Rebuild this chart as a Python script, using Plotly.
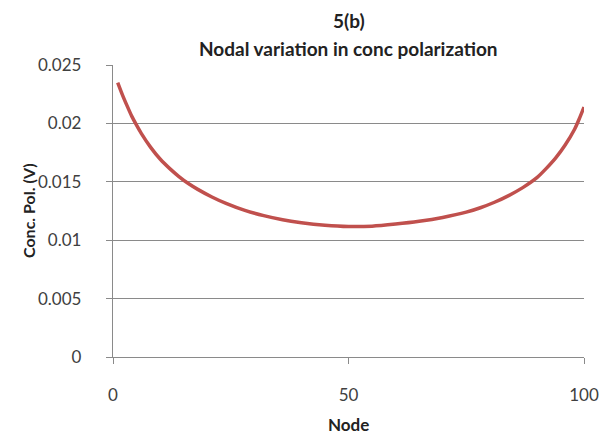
import plotly.graph_objects as go

# Concentration polarization along the cell, sampled at selected nodes
nodes = [1, 2, 3, 4, 5, 6, 8, 10, 12, 14, 16, 18, 21, 24, 28, 32, 36, 40,
         45, 50, 55, 60, 65, 70, 75, 78, 81, 84, 87, 90, 92, 94, 96, 98,
         99, 100]
conc_pol = [0.02350, 0.02245, 0.02150, 0.02060, 0.01985, 0.01915, 0.01795,
            0.01695, 0.01615, 0.01545, 0.01485, 0.01435, 0.01370, 0.01315,
            0.01255, 0.01210, 0.01175, 0.01150, 0.01128, 0.01117, 0.01120,
            0.01138, 0.01162, 0.01195, 0.01240, 0.01278, 0.01325, 0.01382,
            0.01450, 0.01535, 0.01615, 0.01705, 0.01815, 0.01950, 0.02040,
            0.02140]

x_ticks = [0, 50, 100]
y_ticks = [0, 0.005, 0.01, 0.015, 0.02, 0.025]
y_tick_text = ["0", "0.005", "0.01", "0.015", "0.02", "0.025"]

FONT = "Lato, 'Open Sans', sans-serif"
AXIS_GREY = "#8a8a8a"
TEXT_DARK = "#222222"

fig = go.Figure()
fig.add_trace(go.Scatter(
    x=nodes, y=conc_pol, mode="lines",
    line=dict(color="#C0504D", width=3.5, shape="spline", smoothing=0.6),
    showlegend=False,
))

fig.update_layout(
    width=611, height=435,
    margin=dict(l=113, r=24, t=65, b=78),
    paper_bgcolor="white", plot_bgcolor="white",
    font=dict(family=FONT, color="#404040"),
)

fig.update_xaxes(
    range=[0, 100], tickvals=x_ticks, ticktext=[str(v) for v in x_ticks],
    showgrid=False, zeroline=False,
    showline=True, linecolor=AXIS_GREY, linewidth=1.3,
    ticks="outside", ticklen=6, tickcolor=AXIS_GREY, tickwidth=1.3,
    tickfont=dict(size=17, color="#404040"), ticklabelstandoff=16,
)
fig.update_yaxes(
    range=[0, 0.025], tickvals=y_ticks, ticktext=y_tick_text,
    showgrid=True, gridcolor=AXIS_GREY, gridwidth=1.3, zeroline=False,
    showline=True, linecolor=AXIS_GREY, linewidth=1.3,
    ticks="outside", ticklen=6, tickcolor=AXIS_GREY, tickwidth=1.3,
    tickfont=dict(size=17, color="#404040"), ticklabelstandoff=21,
)

# Chart title (two lines) and axis titles
fig.add_annotation(text="<b>5(b)</b>", xref="paper", yref="paper",
                   x=0.5, y=1, yanchor="middle", yshift=45, showarrow=False,
                   font=dict(size=19, color=TEXT_DARK, family=FONT))
fig.add_annotation(text="<b>Nodal variation in conc polarization</b>",
                   xref="paper", yref="paper", x=0.5, y=1, yanchor="middle",
                   yshift=17, showarrow=False,
                   font=dict(size=19, color=TEXT_DARK, family=FONT))
fig.add_annotation(text="<b>Node</b>", xref="paper", yref="paper",
                   x=0.5, y=0, yanchor="middle", yshift=-67, showarrow=False,
                   borderpad=0,
                   font=dict(size=17, color=TEXT_DARK, family=FONT))
fig.add_annotation(text="<b>Conc. Pol. (V)</b>", xref="paper", yref="paper",
                   x=0, xanchor="center", xshift=-85, y=0.5, yanchor="middle",
                   yshift=0, textangle=-90, showarrow=False,
                   font=dict(size=16, color=TEXT_DARK, family=FONT))

fig.write_html("out.html")
